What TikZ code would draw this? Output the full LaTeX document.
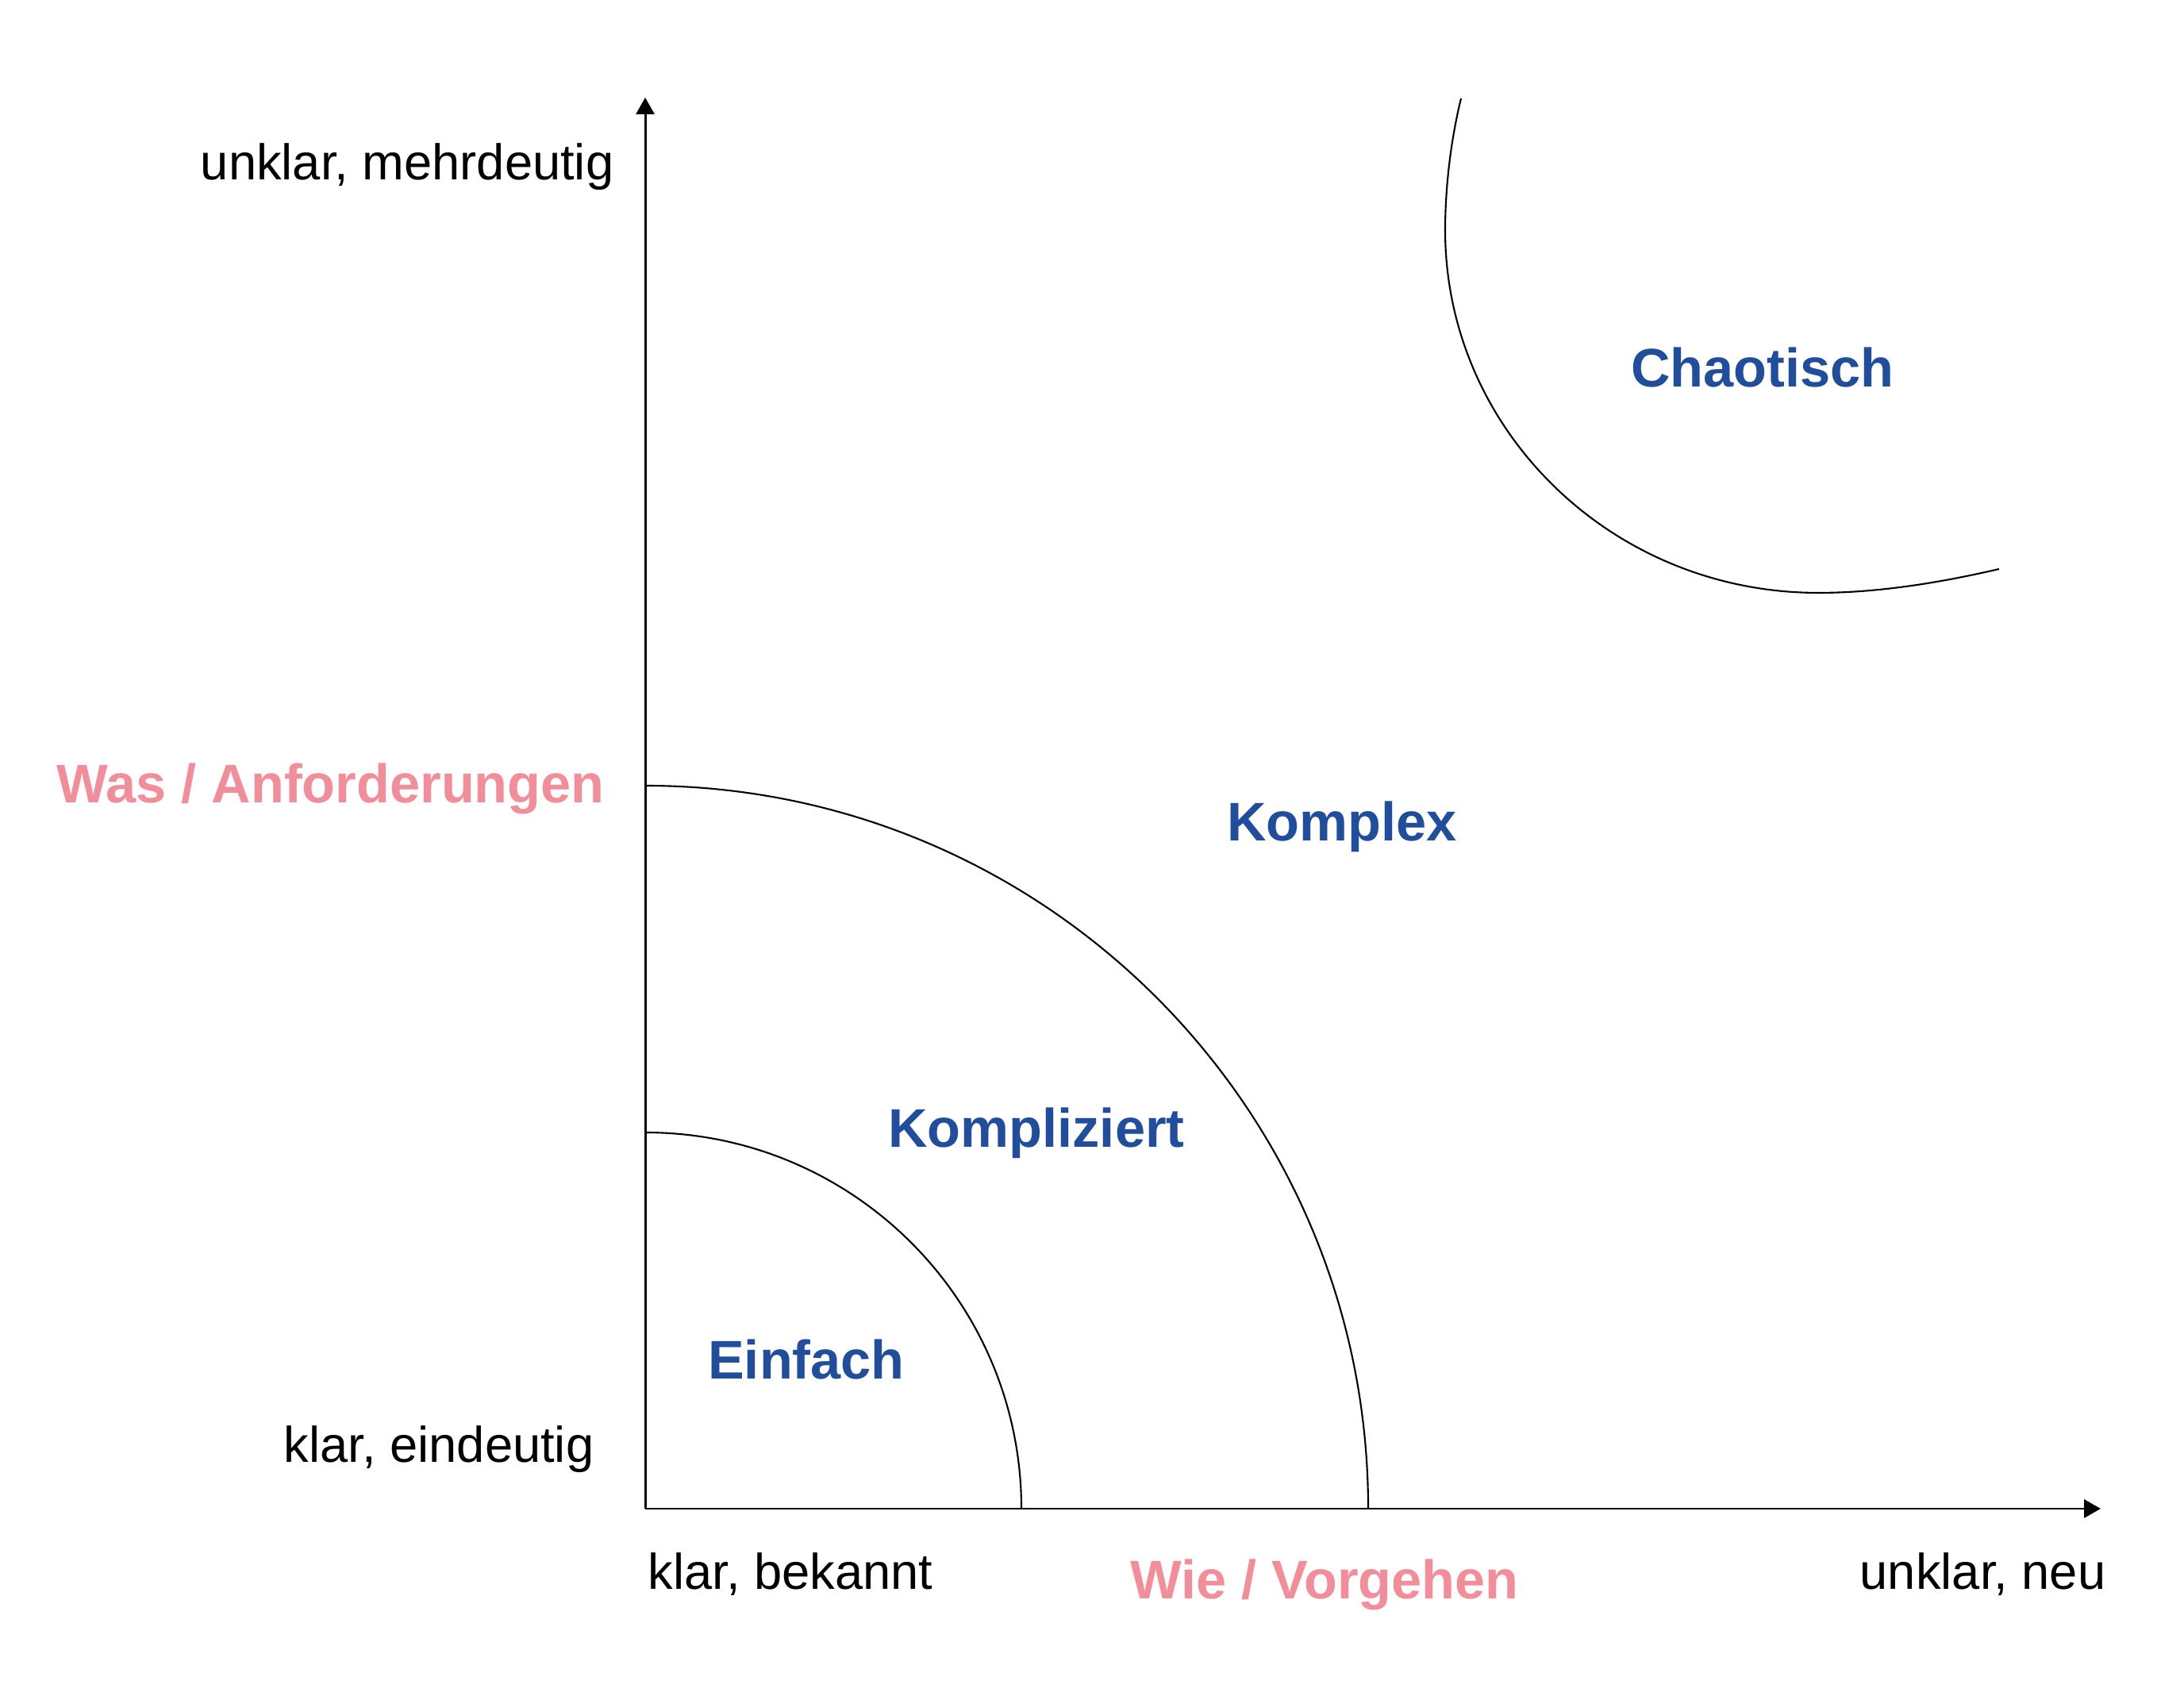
\documentclass[tikz,border=0pt]{standalone}
\usepackage{fontspec}
\setmainfont{Liberation Sans}
\usepackage{tikz}
\usetikzlibrary{arrows.meta,positioning}
\definecolor{domainblue}{HTML}{214E9C}
\definecolor{axispink}{HTML}{F28E99}
\tikzset{
    axislabel/.style={font=\fontsize{18}{21}\selectfont, inner sep=0pt},
    axistitle/.style={font=\bfseries\fontsize{19.5}{23}\selectfont, text=axispink, inner sep=0pt},
    domainlabel/.style={font=\bfseries\fontsize{19.5}{23}\selectfont, text=domainblue, inner sep=0pt},
    boundary/.style={line width=0.6pt}
}

\begin{document}
\begin{tikzpicture}[>={Triangle[length=0.21cm,width=0.23cm]}]
    \useasboundingbox (0,0) rectangle (27.52,21.31);
    \coordinate (origin) at (8.13,2.30);
    \coordinate (xend) at (26.47,2.30);
    \coordinate (yend) at (8.13,20.08);

    % axes
    \draw[->,line width=0.85pt] (origin) -- (xend);
    \draw[->,line width=0.85pt] (origin) -- (yend);

    % domain boundaries
    \draw[boundary] (12.87,2.30) arc[start angle=0,end angle=90,radius=4.74];
    \draw[boundary] (17.24,2.30) arc[start angle=0,end angle=90,radius=9.11];
    \draw[boundary] (18.41,20.07) .. controls (18.27,19.5) and (18.21,18.9) .. (18.21,18.41)
        .. controls (18.21,15.89) and (20.31,13.84) .. (22.91,13.84)
        .. controls (23.7,13.84) and (24.5,13.98) .. (25.19,14.14);

    % axis labels
    \node[axislabel, anchor=east] (yhigh) at (7.74,19.21) {unklar, mehrdeutig};
    \node[axislabel, anchor=east] (ylow) at (7.49,3.05) {klar, eindeutig};
    \node[axistitle] (ytitle) at (4.165,11.37) {Was / Anforderungen};
    \node[axislabel, anchor=west] (xlow) at (8.16,1.47) {klar, bekannt};
    \node[axistitle] (xtitle) at (16.69,1.34) {Wie / Vorgehen};
    \node[axislabel, anchor=east] (xhigh) at (26.54,1.47) {unklar, neu};

    % domains
    \node[domainlabel] (einfach) at (10.16,4.18) {Einfach};
    \node[domainlabel] (kompliziert) at (13.06,7.03) {Kompliziert};
    \node[domainlabel] (komplex) at (16.91,10.89) {Komplex};
    \node[domainlabel] (chaotisch) at (22.21,16.68) {Chaotisch};
\end{tikzpicture}
\end{document}
